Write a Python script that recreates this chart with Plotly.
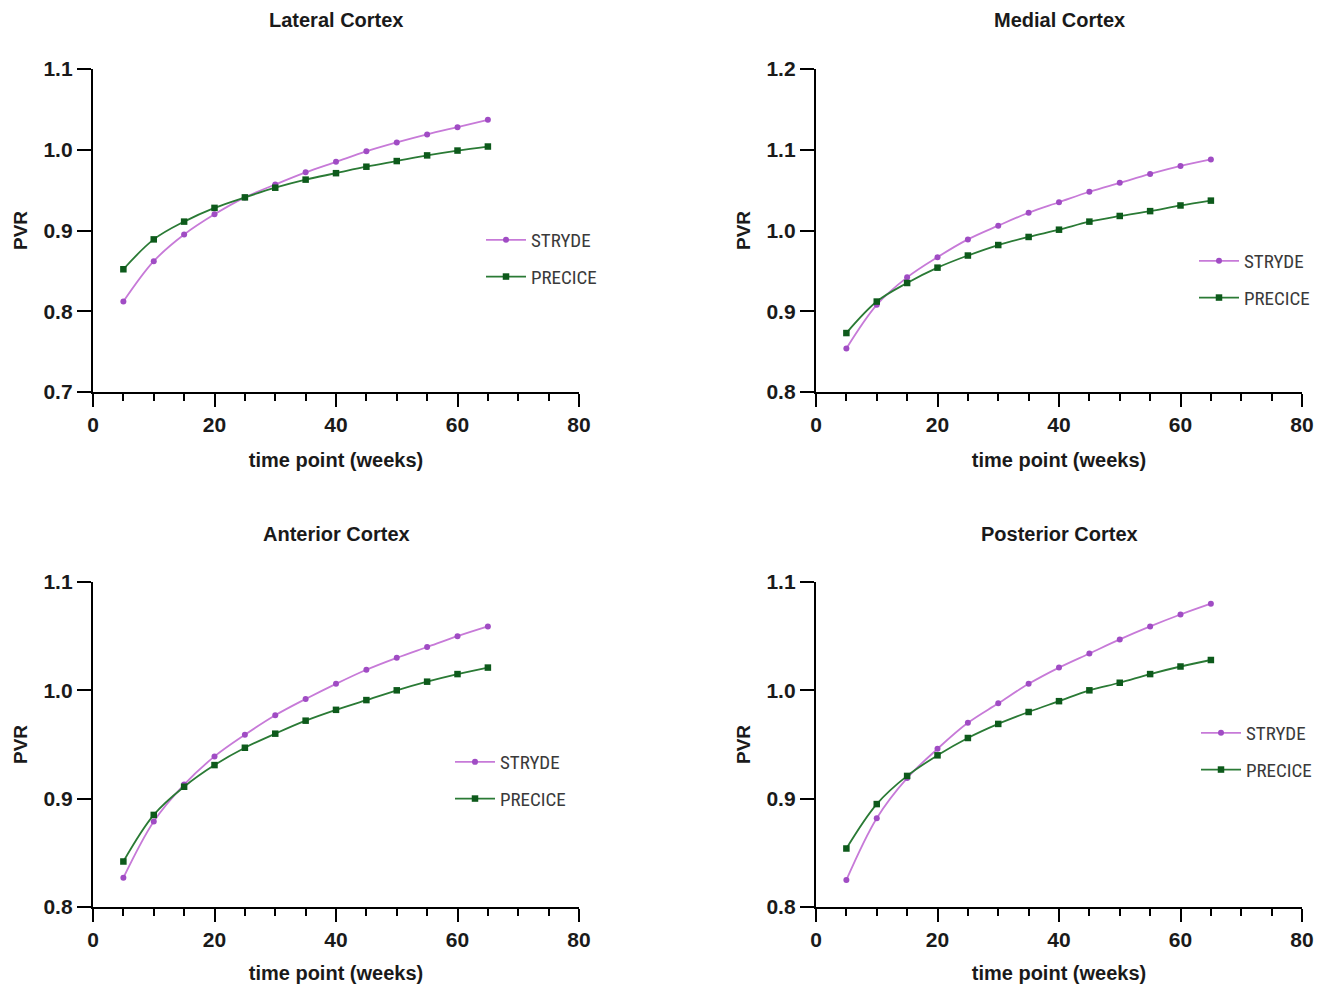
import plotly.graph_objects as go

weeks = [5, 10, 15, 20, 25, 30, 35, 40, 45, 50, 55, 60, 65]

panel_titles = ["Lateral Cortex", "Medial Cortex", "Anterior Cortex", "Posterior Cortex"]
series_names = ["STRYDE", "PRECICE"]

lateral_stryde = [0.812, 0.862, 0.895, 0.920, 0.941, 0.957, 0.972, 0.985, 0.998, 1.009, 1.019, 1.028, 1.037]
lateral_precice = [0.852, 0.889, 0.911, 0.928, 0.941, 0.953, 0.963, 0.971, 0.979, 0.986, 0.993, 0.999, 1.004]

medial_stryde = [0.854, 0.908, 0.942, 0.967, 0.989, 1.006, 1.022, 1.035, 1.048, 1.059, 1.070, 1.080, 1.088]
medial_precice = [0.873, 0.912, 0.935, 0.954, 0.969, 0.982, 0.992, 1.001, 1.011, 1.018, 1.024, 1.031, 1.037]

anterior_stryde = [0.827, 0.879, 0.913, 0.939, 0.959, 0.977, 0.992, 1.006, 1.019, 1.030, 1.040, 1.050, 1.059]
anterior_precice = [0.842, 0.885, 0.911, 0.931, 0.947, 0.960, 0.972, 0.982, 0.991, 1.000, 1.008, 1.015, 1.021]

posterior_stryde = [0.825, 0.882, 0.919, 0.946, 0.970, 0.988, 1.006, 1.021, 1.034, 1.047, 1.059, 1.070, 1.080]
posterior_precice = [0.854, 0.895, 0.921, 0.940, 0.956, 0.969, 0.980, 0.990, 1.000, 1.007, 1.015, 1.022, 1.028]

y_ranges = [[0.7, 1.1], [0.8, 1.2], [0.8, 1.1], [0.8, 1.1]]
x_range = [0, 80]

panels = [
    (lateral_stryde, lateral_precice),
    (medial_stryde, medial_precice),
    (anterior_stryde, anterior_precice),
    (posterior_stryde, posterior_precice),
]

# page body has an 8px margin: figure sized to fit the window, positions given in window pixels
OFF = 8
W, H = 1328 - 2 * OFF, 992 - 2 * OFF
FONT = "Arial, 'Liberation Sans', Helvetica, sans-serif"
NARROW = "'Liberation Sans Narrow', 'Arial Narrow', 'Roboto Condensed', Arial, sans-serif"


def px(x):
    return (x - OFF) / W


def py(y):
    return 1 - (y - OFF) / H


# pixel boxes of the four plot areas (left, right, top, bottom), window coordinates
boxes = [(93, 579, 69, 392), (816, 1302, 69, 392), (93, 579, 582, 907), (816, 1302, 582, 907)]
# legend anchor (left x, first item center y)
legend_pos = [(481, 240), (1194, 261), (450, 762), (1196, 733)]
title_y = [20, 20, 534, 534]

line_colors = ["#c77ad8", "#2a7a35"]
marker_colors = ["#a04cc4", "#0d5a1b"]
symbols = ["circle", "square"]

fig = go.Figure()
layout = dict(
    width=W, height=H,
    margin=dict(l=0, r=0, t=0, b=0, autoexpand=False),
    paper_bgcolor="white", plot_bgcolor="white",
    font=dict(family=FONT, color="#1a1a1a"),
    annotations=[],
)

for i, (s_vals, p_vals) in enumerate(panels):
    n = "" if i == 0 else str(i + 1)
    xa, ya = "x" + n, "y" + n
    leg = "legend" + n
    for k, vals in enumerate([s_vals, p_vals]):
        fig.add_trace(go.Scatter(
            x=weeks, y=vals, name=series_names[k], mode="lines+markers",
            xaxis=xa, yaxis=ya, legend=leg, legendgroup=f"{i}-{k}",
            line=dict(color=line_colors[k], width=1.8, shape="spline", smoothing=1.0),
            marker=dict(color=marker_colors[k], symbol=symbols[k], size=6 if k == 0 else 6.5),
            cliponaxis=False,
        ))
    l, r, t, b = boxes[i]
    layout["xaxis" + n] = dict(
        domain=[px(l), px(r)], anchor=ya, range=x_range, dtick=20, tick0=0,
        automargin=False,
        showline=True, linecolor="black", linewidth=2.4,
        ticks="outside", ticklen=13, tickwidth=2.4, tickcolor="black",
        minor=dict(dtick=5, tick0=0, ticks="outside", ticklen=7, tickwidth=2, tickcolor="black"),
        showgrid=False, zeroline=False,
        tickfont=dict(size=21, family=FONT, color="#1a1a1a", weight="bold"),
        title=dict(text="<b>time point (weeks)</b>", font=dict(size=20, family=FONT, color="#1a1a1a"), standoff=18),
    )
    layout["yaxis" + n] = dict(
        domain=[py(b), py(t)], anchor=xa, range=y_ranges[i], dtick=0.1, tick0=0,
        tickformat=".1f", automargin=False,
        showline=True, linecolor="black", linewidth=2.4,
        ticks="outside", ticklen=14, tickwidth=2.4, tickcolor="black",
        showgrid=False, zeroline=False,
        tickfont=dict(size=21, family=FONT, color="#1a1a1a", weight="bold"),
        title=dict(text="<b>PVR</b>", font=dict(size=19, family=FONT, color="#1a1a1a"), standoff=11),
    )
    lx, ly = legend_pos[i]
    layout[leg] = dict(
        x=px(lx), y=py(ly - 19), xanchor="left", yanchor="top",
        xref="paper", yref="paper",
        bgcolor="rgba(0,0,0,0)", borderwidth=0,
        font=dict(size=19, family=NARROW, color="#3a3a3a"),
        itemwidth=40, tracegroupgap=9, traceorder="grouped",
    )
    layout["annotations"].append(dict(
        text="<b>" + panel_titles[i] + "</b>", x=px((l + r) / 2), y=py(title_y[i]),
        xref="paper", yref="paper", xanchor="center", yanchor="middle", showarrow=False,
        font=dict(size=20, family=FONT, color="#1a1a1a"),
    ))

fig.update_layout(**layout)
fig.write_html("out.html")
